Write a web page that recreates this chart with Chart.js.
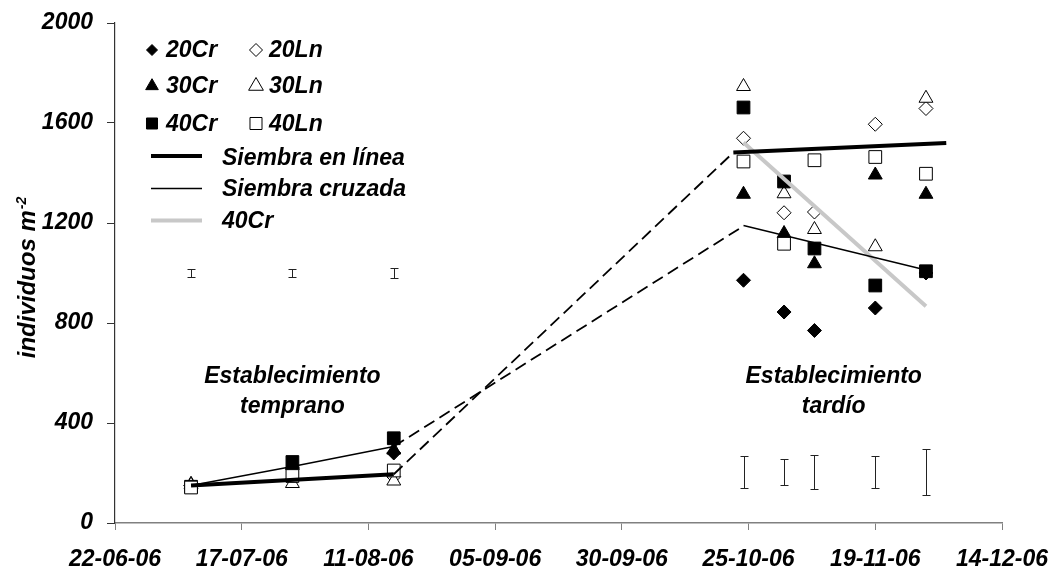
<!DOCTYPE html>
<html>
<head>
<meta charset="utf-8">
<script src="https://cdn.jsdelivr.net/npm/chart.js@4.4.0/dist/chart.umd.min.js"></script>
<style>
  html, body { margin: 0; padding: 0; background: #fff; }
  #wrap { width: 1051px; height: 572px; }
</style>
</head>
<body>
<div id="wrap"><canvas id="c" width="1051" height="572"></canvas></div>
<script>
// Sampling dates (dd-mm-yy)
const earlyDates = ['07-07-06', '27-07-06', '16-08-06'];
const lateDates = ['24-10-06', '01-11-06', '07-11-06', '19-11-06', '29-11-06'];
const sampleDates = earlyDates.concat(lateDates);

// Density per treatment (individuos m-2)
const s20Cr = [150, 220, 280, 971, 844, 770, 860, 1000];
const s20Ln = [150, 175, 185, 1539, 1241, 1244, 1595, 1658];
const s30Cr = [155, 230, 292, 1315, 1158, 1037, 1392, 1315];
const s30Ln = [152, 158, 168, 1746, 1317, 1174, 1105, 1699];
const s40Cr = [145, 244, 339, 1662, 1366, 1098, 950, 1007];
const s40Ln = [142, 188, 210, 1446, 1117, 1451, 1464, 1397];

// Fitted lines: seeding in line, cross seeding, and 40Cr late trend
const linEarlyDates = ['07-07-06', '16-08-06'];
const linEarly = [150, 195];
const cruEarlyDates = ['07-07-06', '27-07-06', '16-08-06'];
const cruEarly = [150, 226, 306];
const linBridgeDates = ['16-08-06', '22-10-06'];
const linBridge = [195, 1482];
const cruBridgeDates = ['16-08-06', '24-10-06'];
const cruBridge = [306, 1188];
const linLateDates = ['22-10-06', '03-12-06'];
const linLate = [1482, 1520];
const cruLateDates = ['24-10-06', '30-11-06'];
const cruLate = [1190, 1007];
const cr40LateDates = ['24-10-06', '29-11-06'];
const cr40Late = [1522, 867];

// Error bars (centre and half length)
const errDates = sampleDates;
const errMid = [1000, 1000, 1000, 204, 203, 204, 204, 204];
const errHalf = [15, 15, 21, 65, 52, 69, 65, 93];

// Axis ticks
const xTickLabels = ['22-06-06', '17-07-06', '11-08-06', '05-09-06', '30-09-06', '25-10-06', '19-11-06', '14-12-06'];
const yTicks = [0, 400, 800, 1200, 1600, 2000];

const BASE = Date.UTC(2006, 5, 22);
function dayOf(s) {
  const p = s.split('-').map(Number);
  return (Date.UTC(2000 + p[2], p[1] - 1, p[0]) - BASE) / 86400000;
}
function pts(dates, vals) {
  return dates.map((d, i) => ({ x: dayOf(d), y: vals[i] }));
}

const FAMILY = '"Liberation Sans", Arial, sans-serif';
const FONT = 'italic bold 23px ' + FAMILY;

function markerSet(label, values, style, radius, filled, order) {
  return {
    label, data: pts(sampleDates, values), order,
    showLine: false,
    pointStyle: style, pointRadius: radius,
    pointBackgroundColor: filled ? '#000' : '#fff',
    pointBorderColor: '#000', pointBorderWidth: 1
  };
}
function lineSet(label, dates, values, color, width, dash) {
  return {
    label, data: pts(dates, values), order: 0,
    showLine: true, pointRadius: 0,
    borderColor: color, borderWidth: width, borderDash: dash || [],
    fill: false, tension: 0
  };
}

function drawMarker(ctx, style, r, x, y, filled) {
  ctx.beginPath();
  if (style === 'rectRot') {
    ctx.moveTo(x, y - r); ctx.lineTo(x + r, y); ctx.lineTo(x, y + r); ctx.lineTo(x - r, y);
  } else if (style === 'triangle') {
    const h = r * 1.5, w = r * Math.sqrt(3) / 2;
    ctx.moveTo(x, y - r); ctx.lineTo(x + w, y - r + h); ctx.lineTo(x - w, y - r + h);
  } else {
    const s = r * Math.SQRT1_2;
    ctx.rect(x - s, y - s, 2 * s, 2 * s);
  }
  ctx.closePath();
  ctx.fillStyle = filled ? '#000' : '#fff';
  ctx.fill();
  ctx.strokeStyle = '#000';
  ctx.lineWidth = 1;
  ctx.stroke();
}

const overlay = {
  id: 'overlay',
  afterDatasetsDraw(chart) {
    const { ctx } = chart;
    const xs = chart.scales.x, ys = chart.scales.y;
    ctx.save();

    // error bars
    ctx.strokeStyle = '#222';
    ctx.lineWidth = 1;
    errDates.forEach((d, i) => {
      const px = Math.round(xs.getPixelForValue(dayOf(d))) + 0.5;
      const top = Math.round(ys.getPixelForValue(errMid[i] + errHalf[i])) + 0.5;
      const bot = Math.round(ys.getPixelForValue(errMid[i] - errHalf[i])) + 0.5;
      ctx.beginPath();
      ctx.moveTo(px, top); ctx.lineTo(px, bot);
      ctx.moveTo(px - 4, top); ctx.lineTo(px + 4, top);
      ctx.moveTo(px - 4, bot); ctx.lineTo(px + 4, bot);
      ctx.stroke();
    });

    // period labels
    ctx.fillStyle = '#000';
    ctx.font = FONT;
    ctx.textAlign = 'center';
    ctx.textBaseline = 'middle';
    const notes = [
      { day: 35, lines: ['Establecimiento', 'temprano'] },
      { day: 141.8, lines: ['Establecimiento', 'tardío'] }
    ];
    notes.forEach(n => {
      const px = xs.getPixelForValue(n.day);
      n.lines.forEach((t, k) => ctx.fillText(t, px, 377 + k * 30));
    });

    // legend
    ctx.textAlign = 'left';
    const rows = [
      [['rectRot', 5.5, true, '20Cr'], ['rectRot', 6.5, false, '20Ln']],
      [['triangle', 7.3, true, '30Cr'], ['triangle', 8.5, false, '30Ln']],
      [['rect', 7.8, true, '40Cr'], ['rect', 8.5, false, '40Ln']]
    ];
    const rowY = [50, 86, 123.5];
    rows.forEach((row, r) => {
      row.forEach((it, c) => {
        const mx = c === 0 ? 152 : 256;
        drawMarker(ctx, it[0], it[1], mx, rowY[r], it[2]);
        ctx.fillStyle = '#000';
        ctx.fillText(it[3], c === 0 ? 166 : 269, rowY[r] + 1);
      });
    });
    const lineRows = [
      ['#000', 4, 156, 'Siembra en línea', 159],
      ['#000', 1.3, 188.5, 'Siembra cruzada', 190],
      ['#c8c8c8', 4, 220.5, '40Cr', 222]
    ];
    lineRows.forEach(l => {
      ctx.strokeStyle = l[0];
      ctx.lineWidth = l[1];
      ctx.beginPath();
      ctx.moveTo(151, l[2]); ctx.lineTo(202, l[2]);
      ctx.stroke();
      ctx.fillStyle = '#000';
      ctx.fillText(l[3], 222, l[4]);
    });

    // y axis title
    ctx.translate(35, 278);
    ctx.rotate(-Math.PI / 2);
    ctx.textBaseline = 'alphabetic';
    ctx.font = 'italic bold 24px ' + FAMILY;
    const main = 'individuos m';
    const w1 = ctx.measureText(main).width;
    ctx.font = 'italic bold 14px ' + FAMILY;
    const w2 = ctx.measureText('-2').width;
    const start = -(w1 + w2) / 2;
    ctx.font = 'italic bold 24px ' + FAMILY;
    ctx.fillText(main, start, 0);
    ctx.font = 'italic bold 14px ' + FAMILY;
    ctx.fillText('-2', start + w1 + 1, -9);

    ctx.restore();
  }
};

new Chart(document.getElementById('c'), {
  type: 'scatter',
  data: {
    datasets: [
      markerSet('20Cr', s20Cr, 'rectRot', 7, true, 6),
      markerSet('20Ln', s20Ln, 'rectRot', 7, false, 5),
      markerSet('30Cr', s30Cr, 'triangle', 8, true, 4),
      markerSet('30Ln', s30Ln, 'triangle', 8, false, 3),
      markerSet('40Cr', s40Cr, 'rect', 9, true, 2),
      markerSet('40Ln', s40Ln, 'rect', 9, false, 1),
      lineSet('Siembra en línea', linEarlyDates, linEarly, '#000', 4),
      lineSet('Siembra cruzada', cruEarlyDates, cruEarly, '#000', 1.3),
      lineSet('Siembra en línea (transición)', linBridgeDates, linBridge, '#000', 1.8, [12, 6]),
      lineSet('Siembra cruzada (transición)', cruBridgeDates, cruBridge, '#000', 1.8, [12, 6]),
      lineSet('Siembra en línea (tardío)', linLateDates, linLate, '#000', 4),
      lineSet('Siembra cruzada (tardío)', cruLateDates, cruLate, '#000', 1.3),
      lineSet('40Cr (tardío)', cr40LateDates, cr40Late, '#c8c8c8', 4)
    ]
  },
  options: {
    responsive: false,
    animation: false,
    events: [],
    layout: { padding: { top: 23, right: 49, left: 0, bottom: 0 } },
    plugins: { legend: { display: false }, tooltip: { enabled: false } },
    font: { family: FAMILY },
    scales: {
      x: {
        type: 'linear', min: 0, max: 175,
        afterFit(s) { s.height = 49; s.paddingLeft = 0; s.paddingRight = 0; },
        border: { display: true, color: '#808080', width: 1.5 },
        grid: { drawOnChartArea: false, drawTicks: true, tickLength: 7, color: '#808080' },
        ticks: {
          stepSize: 25, autoSkip: false, maxRotation: 0, padding: 16, color: '#000',
          font: { family: FAMILY, size: 23, style: 'italic', weight: 'bold' },
          callback: v => xTickLabels[Math.round(v / 25)]
        }
      },
      y: {
        min: 0, max: 2000,
        afterFit(s) { s.width = 115; s.paddingTop = 0; s.paddingBottom = 0; },
        afterBuildTicks(s) { s.ticks = yTicks.map(v => ({ value: v })); },
        border: { display: true, color: '#333', width: 1.2 },
        grid: { drawOnChartArea: false, drawTicks: true, tickLength: 8, color: '#333' },
        ticks: {
          padding: 14, color: '#000',
          font: { family: FAMILY, size: 23, style: 'italic', weight: 'bold' },
          callback: v => String(v)
        }
      }
    }
  },
  plugins: [overlay]
});
</script>
</body>
</html>
